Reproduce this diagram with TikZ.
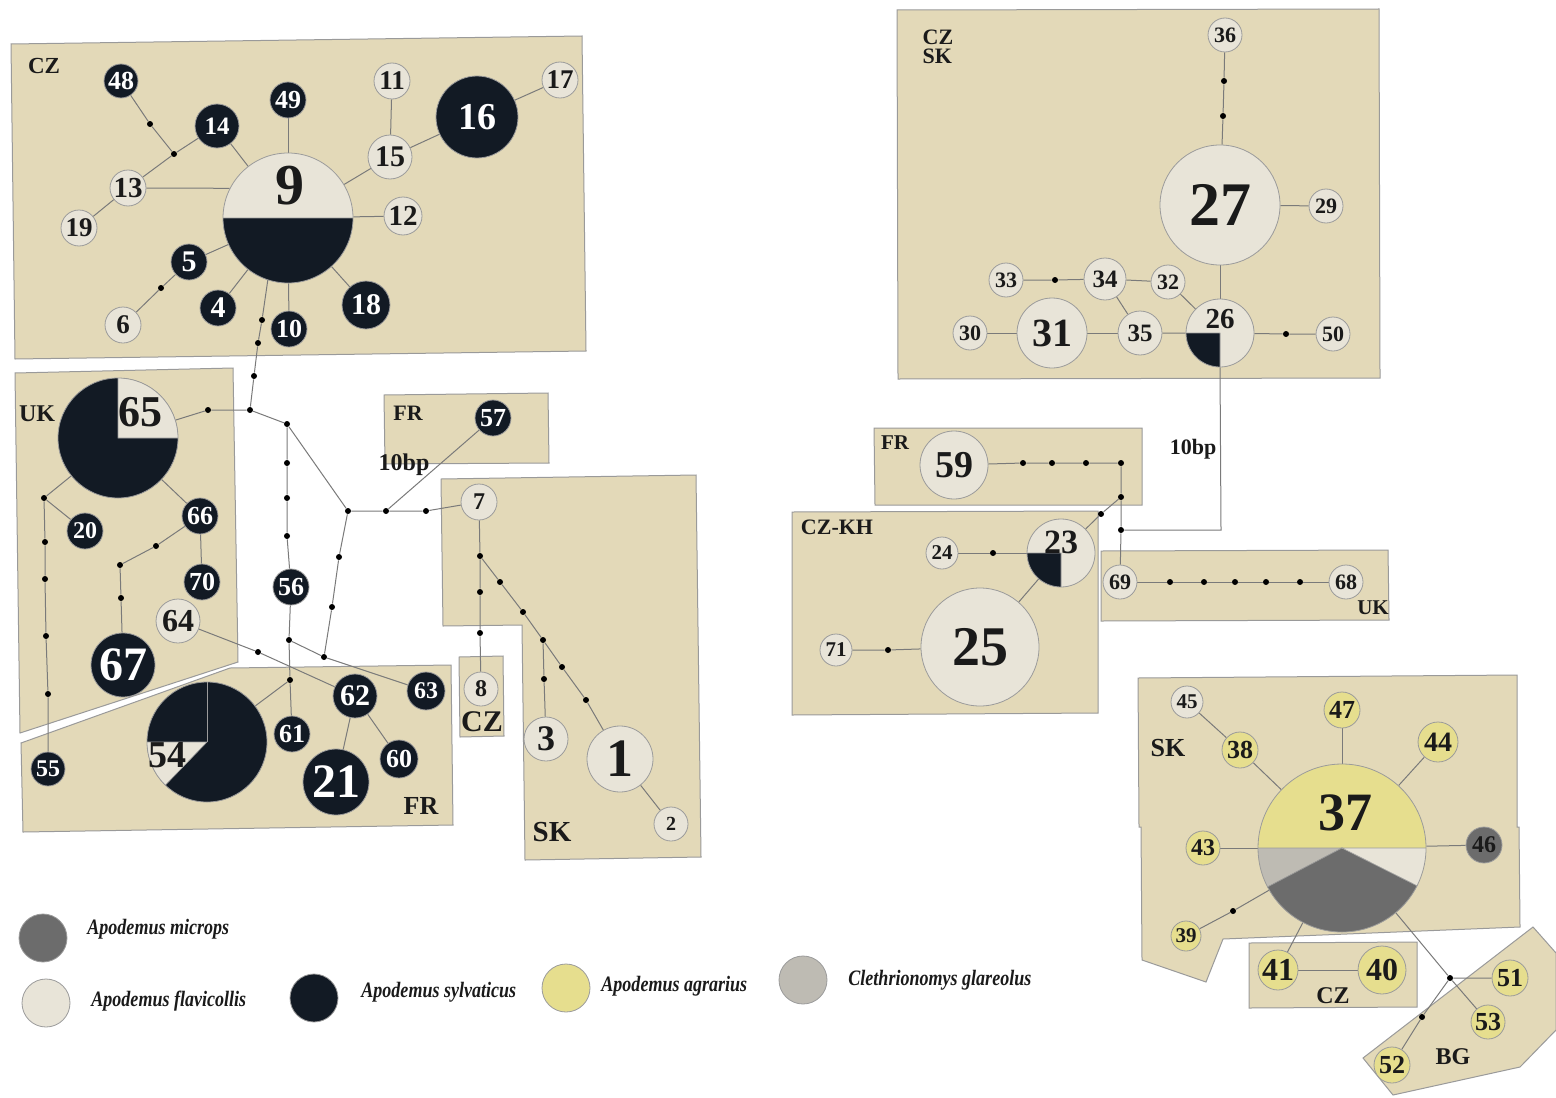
\documentclass[tikz,border=0pt]{standalone}
\usepackage{fontspec}
\setmainfont{Liberation Serif}
\usetikzlibrary{calc}
\pgfdeclarelayer{bg}
\pgfdeclarelayer{edges}
\pgfsetlayers{bg,edges,main}
\definecolor{boxfill}{HTML}{E3D9B8}
\definecolor{boxline}{HTML}{9A9A9A}
\definecolor{fla}{HTML}{E8E4D8}
\definecolor{syl}{HTML}{121A24}
\definecolor{agr}{HTML}{E6DE8E}
\definecolor{mic}{HTML}{6C6C6C}
\definecolor{gla}{HTML}{BEBBB3}
\definecolor{ecol}{HTML}{7A7A7A}
\definecolor{ncol}{HTML}{9B9B9B}
\definecolor{txt}{HTML}{1A1A1A}
\newcommand\fs[1]{\fontsize{#1}{#1}\selectfont}
\newcommand\hapnode[6]{\node[#1,minimum size=#4pt,font=\bfseries\fs{#5}] (n#6) at (#2,#3) {#6};}
\newcommand\dotnode[3]{\node[dotpt] (#1) at (#2,#3) {};}
\newcommand\pieslice[4]{\filldraw[fill=#1,draw=ncol,line width=0.3pt] (path picture bounding box.center) -- ++(#2:#4) arc[start angle=#2,end angle=#3,radius=#4] -- cycle;}
\tikzset{
 hap/.style={circle, draw=ncol, line width=0.4pt, inner sep=0pt},
 lt/.style={hap, fill=fla, text=txt},
 dk/.style={hap, fill=syl, text=white},
 yl/.style={hap, fill=agr, text=txt},
 mg/.style={hap, fill=mic, text=txt},
 dotpt/.style={circle, fill=black, inner sep=0pt, minimum size=3pt},
 edge/.style={draw=ecol, line width=0.5pt},
 region/.style={fill=boxfill, draw=boxline, line width=0.5pt},
 reglab/.style={font=\bfseries\fs{#1}, inner sep=0pt, text=txt},
 pielab/.style={font=\bfseries\fs{#1}, inner sep=0pt},
 legtext/.style={font=\bfseries\itshape\fs{11}, inner sep=0pt, anchor=west, text=txt},
 legdot/.style={circle, inner sep=0pt, minimum size=24pt, draw=ncol, line width=0.4pt},
}
\begin{document}
\begin{tikzpicture}[x=0.5pt,y=-0.5pt]
\useasboundingbox (0,0) rectangle (1556,1097);
\begin{pgfonlayer}{bg}
\fill[white] (0,0) rectangle (1556,1097);
% regions
\path[region] (11,44) -- (582,36) -- (586,351) -- (15,359) -- cycle;
\path[region] (15,373) -- (233,368) -- (238,662) -- (20,733) -- cycle;
\path[region] (21,743) -- (230,668) -- (451,665) -- (453,825) -- (23,832) -- cycle;
\path[region] (384,395) -- (548,393) -- (549,463) -- (385,464) -- cycle;
\path[region] (441,479) -- (696,475) -- (701,857) -- (525,860) -- (522,625) -- (443,626) -- cycle;
\path[region] (459,657) -- (503,656) -- (504,736) -- (460,737) -- cycle;
\path[region] (897,10) -- (1379,9) -- (1380,378) -- (898,379) -- cycle;
\path[region] (874,428) -- (1142,428) -- (1142,505) -- (875,505) -- cycle;
\path[region] (792,512) -- (1098,511) -- (1098,713) -- (792,715) -- cycle;
\path[region] (1101,551) -- (1388,550) -- (1389,620) -- (1101,621) -- cycle;
\path[region] (1138,678) -- (1517,675) -- (1517,827) -- (1519,827) -- (1520,927) -- (1223,939) -- (1206,982) -- (1142,960) -- (1141,827) -- (1139,827) -- cycle;
\path[region] (1249,943) -- (1417,942) -- (1417,1007) -- (1249,1008) -- cycle;
\path[region] (1533,927) -- (1556,953) -- (1556,1030) -- (1520,1067) -- (1393,1095) -- (1363,1058) -- cycle;
\end{pgfonlayer}

% ---------- CZ (top left)
\hapnode{dk}{121}{81}{17}{13}{48}
\hapnode{dk}{217}{126}{22}{12.5}{14}
\hapnode{dk}{288}{100}{18}{13}{49}
\hapnode{lt}{392}{81}{18}{13.5}{11}
\hapnode{dk}{477}{117}{41}{19}{16}
\hapnode{lt}{560}{80}{18}{13.5}{17}
\hapnode{lt}{128}{188}{18}{14.5}{13}
\hapnode{lt}{390}{157}{22}{15}{15}
\hapnode{lt}{403}{216}{19}{14.5}{12}
\hapnode{lt}{79}{228}{18}{13.5}{19}
\hapnode{dk}{189}{262}{18}{15}{5}
\hapnode{dk}{218}{308}{18}{15}{4}
\hapnode{lt}{123}{325}{18}{13.5}{6}
\hapnode{dk}{289}{329}{18}{13}{10}
\hapnode{dk}{366}{305}{24}{15}{18}
\node[lt, minimum size=65pt, path picture={\pieslice{syl}{180}{360}{40pt}}] (n9) at (288,218) {};
\node[pielab=29, text=txt] (n9lab) at (290,186) {9};

% ---------- UK / FR (left)
\node[dk, minimum size=60pt, path picture={\pieslice{fla}{0}{90}{40pt}}] (n65) at (118,438) {};
\node[pielab=22, text=txt] (n65lab) at (140,412) {65};
\hapnode{dk}{85}{531}{18}{12}{20}
\hapnode{dk}{200}{516}{18}{13}{66}
\hapnode{dk}{202}{582}{18}{13}{70}
\hapnode{lt}{178}{621}{22}{16}{64}
\hapnode{dk}{123}{665}{32}{24}{67}
\hapnode{dk}{291}{587}{18}{13}{56}
\hapnode{dk}{48}{769}{17}{12}{55}
\node[dk, minimum size=60pt, path picture={\pieslice{fla}{180}{226}{40pt}\draw[ncol,line width=0.3pt] (path picture bounding box.center) -- ++(90:40pt);}] (n54) at (207,742) {};
\node[pielab=19, text=txt] (n54lab) at (167,755) {54};
\hapnode{dk}{292}{734}{18}{13}{61}
\hapnode{dk}{355}{696}{22}{15}{62}
\hapnode{dk}{426}{691}{19}{12}{63}
\hapnode{dk}{399}{759}{19}{13}{60}
\hapnode{dk}{336}{782}{33}{24}{21}
\hapnode{dk}{493}{418}{18}{13}{57}
\hapnode{lt}{479}{502}{18}{12}{7}
\hapnode{lt}{481}{689}{17}{12}{8}
\hapnode{lt}{546}{739}{22}{18}{3}
\hapnode{lt}{620}{759}{33}{27}{1}
\hapnode{lt}{671}{824}{17}{10}{2}

% dots left
\dotnode{d1}{150}{124}
\dotnode{d2}{174}{154}
\dotnode{d3}{161}{288}
\dotnode{d4}{262}{320}
\dotnode{d5}{258}{343}
\dotnode{d6}{254}{376}
\dotnode{d7}{250}{410}
\dotnode{d8}{208}{410}
\dotnode{d9}{287}{424}
\dotnode{d10}{287}{463}
\dotnode{d11}{287}{498}
\dotnode{d12}{287}{536}
\dotnode{d13}{289}{640}
\dotnode{d14}{290}{680}
\dotnode{d15}{348}{511}
\dotnode{d16}{386}{511}
\dotnode{d17}{426}{511}
\dotnode{d18}{339}{557}
\dotnode{d19}{332}{607}
\dotnode{d20}{324}{657}
\dotnode{d21}{258}{652}
\dotnode{d22}{44}{498}
\dotnode{d23}{45}{542}
\dotnode{d24}{45}{579}
\dotnode{d25}{46}{636}
\dotnode{d26}{48}{694}
\dotnode{d27}{156}{546}
\dotnode{d28}{120}{565}
\dotnode{d29}{121}{598}
\dotnode{d30}{480}{556}
\dotnode{d31}{480}{592}
\dotnode{d32}{480}{633}
\dotnode{d33}{500}{582}
\dotnode{d34}{523}{612}
\dotnode{d35}{543}{640}
\dotnode{d36}{562}{667}
\dotnode{d37}{586}{700}
\dotnode{d38}{544}{679}

% ---------- CZ SK (top right)
\hapnode{lt}{1225}{35}{17}{11}{36}
\hapnode{lt}{1220}{205}{60}{31}{27}
\hapnode{lt}{1326}{206}{17}{11}{29}
\node[lt, minimum size=34pt, path picture={\pieslice{syl}{180}{270}{25pt}}] (n26) at (1220,333) {};
\node[pielab=14.5, text=txt] (n26lab) at (1220,319) {26};
\hapnode{lt}{1006}{280}{17}{11}{33}
\hapnode{lt}{1105}{279}{21}{12.5}{34}
\hapnode{lt}{1168}{282}{17}{11}{32}
\hapnode{lt}{1140}{333}{22}{12.5}{35}
\hapnode{lt}{1052}{333}{35}{20}{31}
\hapnode{lt}{970}{333}{17}{11}{30}
\hapnode{lt}{1333}{334}{17}{11}{50}
\hapnode{lt}{954}{465}{34}{19}{59}
\node[lt, minimum size=34pt, path picture={\pieslice{syl}{180}{270}{25pt}}] (n23) at (1061,553) {};
\node[pielab=17, text=txt] (n23lab) at (1061,542) {23};
\hapnode{lt}{942}{553}{16}{10.5}{24}
\hapnode{lt}{980}{647}{59}{28}{25}
\hapnode{lt}{836}{650}{16}{10.5}{71}
\hapnode{lt}{1120}{582}{17}{11}{69}
\hapnode{lt}{1346}{582}{17}{11}{68}
\dotnode{d39}{1224}{81}
\dotnode{d40}{1223}{116}
\dotnode{d41}{1055}{280}
\dotnode{d42}{1286}{334}
\dotnode{d43}{1121}{530}
\dotnode{d44}{1023}{463}
\dotnode{d45}{1052}{463}
\dotnode{d46}{1086}{463}
\dotnode{d47}{1121}{463}
\dotnode{d48}{1121}{497}
\dotnode{d49}{1101}{514}
\dotnode{d50}{993}{553}
\dotnode{d51}{888}{650}
\dotnode{d52}{1170}{582}
\dotnode{d53}{1204}{582}
\dotnode{d54}{1235}{582}
\dotnode{d55}{1266}{582}
\dotnode{d56}{1300}{582}
\coordinate (c1) at (1221,530);

% ---------- SK / CZ / BG (bottom right)
\node[yl, minimum size=84pt, path picture={\pieslice{gla}{180}{207.6}{50pt}\pieslice{mic}{207.6}{333.3}{50pt}\pieslice{fla}{333.3}{360}{50pt}}] (n37) at (1342,848) {};
\node[pielab=27, text=txt] (n37lab) at (1345,813) {37};
\hapnode{lt}{1187}{702}{16}{10.5}{45}
\hapnode{yl}{1240}{750}{18}{13}{38}
\hapnode{yl}{1342}{710}{18}{13}{47}
\hapnode{yl}{1438}{742}{20}{14}{44}
\hapnode{yl}{1203}{848}{17}{12}{43}
\hapnode{mg}{1484}{845}{18}{12}{46}
\hapnode{yl}{1186}{936}{15}{10.5}{39}
\hapnode{yl}{1278}{970}{20}{16}{41}
\hapnode{yl}{1382}{970}{24}{16}{40}
\hapnode{yl}{1510}{978}{18}{13}{51}
\hapnode{yl}{1488}{1022}{17}{13}{53}
\hapnode{yl}{1392}{1065}{18}{13}{52}
\dotnode{d57}{1233}{911}
\dotnode{d58}{1450}{978}
\dotnode{d59}{1422}{1017}

% ---------- edges
\begin{pgfonlayer}{edges}
\draw[edge] (n48) -- (d1) -- (d2);
\draw[edge] (n13) -- (d2) -- (n14);
\draw[edge] (n14) -- (n9);
\draw[edge] (n13.east) -- (n9.153);
\draw[edge] (n19) -- (n13);
\draw[edge] (n49) -- (n9);
\draw[edge] (n11) -- (n15);
\draw[edge] (n15) -- (n9);
\draw[edge] (n16) -- (n15);
\draw[edge] (n17) -- (n16);
\draw[edge] (n12) -- (n9);
\draw[edge] (n18) -- (n9);
\draw[edge] (n10) -- (n9);
\draw[edge] (n4) -- (n9);
\draw[edge] (n5) -- (n9);
\draw[edge] (n6) -- (d3) -- (n5);
\draw[edge] (n9.252) -- (d4) -- (d5) -- (d6) -- (d7) -- (d8) -- (n65);
\draw[edge] (d7) -- (d9) -- (d10) -- (d11) -- (d12) -- (n56) -- (d13) -- (d14) -- (n61);
\draw[edge] (d14) -- (n54);
\draw[edge] (d9) -- (d15) -- (d16) -- (d17) -- (n7);
\draw[edge] (d16) -- (n57);
\draw[edge] (d15) -- (d18) -- (d19) -- (d20) -- (n63);
\draw[edge] (d13) -- (d20);
\draw[edge] (n64) -- (d21) -- (n62);
\draw[edge] (n62) -- (n21);
\draw[edge] (n62) -- (n60);
\draw[edge] (n65) -- (d22) -- (n20);
\draw[edge] (d22) -- (d23) -- (d24) -- (d25) -- (d26) -- (n55);
\draw[edge] (n65) -- (n66) -- (n70);
\draw[edge] (n66) -- (d27) -- (d28) -- (d29) -- (n67);
\draw[edge] (n7) -- (d30) -- (d31) -- (d32) -- (n8);
\draw[edge] (d30) -- (d33) -- (d34) -- (d35) -- (d36) -- (d37) -- (n1) -- (n2);
\draw[edge] (d35) -- (d38) -- (n3);
\draw[edge] (n36) -- (d39) -- (d40) -- (n27) -- (n29);
\draw[edge] (n27) -- (n26);
\draw[edge] (n26) -- (n32);
\draw[edge] (n26) -- (n35) -- (n34);
\draw[edge] (n33) -- (d41) -- (n34) -- (n32);
\draw[edge] (n35) -- (n31) -- (n30);
\draw[edge] (n26) -- (d42) -- (n50);
\draw[edge] (n26.south) -- (c1) -- (d43);
\draw[edge] (n59) -- (d44) -- (d45) -- (d46) -- (d47) -- (d48) -- (d43) -- (n69);
\draw[edge] (d48) -- (d49) -- (n23);
\draw[edge] (n24) -- (d50) -- (n23);
\draw[edge] (n23) -- (n25);
\draw[edge] (n71) -- (d51) -- (n25);
\draw[edge] (n69) -- (d52) -- (d53) -- (d54) -- (d55) -- (d56) -- (n68);
\draw[edge] (n45) -- (n38) -- (n37);
\draw[edge] (n47) -- (n37);
\draw[edge] (n44) -- (n37);
\draw[edge] (n43) -- (n37);
\draw[edge] (n46) -- (n37);
\draw[edge] (n39) -- (d57) -- (n37);
\draw[edge] (n41) -- (n37);
\draw[edge] (n41) -- (n40);
\draw[edge] (n37) -- (d58) -- (n51);
\draw[edge] (d58) -- (n53);
\draw[edge] (d58) -- (d59) -- (n52);
\end{pgfonlayer}

% ---------- region labels
\node[reglab=11.5] (lczA) at (44,66) {CZ};
\node[reglab=12] (lukA) at (37,414) {UK};
\node[reglab=13] (lfrA) at (421,806) {FR};
\node[reglab=11] (lfrB) at (408,413) {FR};
\node[reglab=12] (lbpA) at (404,465) {10bp};
\node[reglab=15] (lczB) at (482,722) {CZ};
\node[reglab=14.5] (lskA) at (552,832) {SK};
\node[reglab=11, align=left, font=\bfseries\fontsize{11}{9.5}\selectfont] (lczsk) at (938,47) {CZ\\SK};
\node[reglab=10.5] (lfrC) at (895,443) {FR};
\node[reglab=11] (lbpB) at (1193,449) {10bp};
\node[reglab=11] (lczkh) at (837,527) {CZ-KH};
\node[reglab=10.5] (lukB) at (1373,608) {UK};
\node[reglab=13] (lskB) at (1168,748) {SK};
\node[reglab=12] (lczC) at (1333,996) {CZ};
\node[reglab=12] (lbg) at (1453,1057) {BG};

% ---------- legend
\node[legdot, fill=mic] (lgmic) at (43,938) {};
\node[legtext] (ltmic) at (87,929) {\scalebox{0.82}[1]{Apodemus microps}};
\node[legdot, fill=fla] (lgfla) at (46,1003) {};
\node[legtext] (ltfla) at (91,1001) {\scalebox{0.82}[1]{Apodemus flavicollis}};
\node[legdot, fill=syl] (lgsyl) at (314,998) {};
\node[legtext] (ltsyl) at (361,992) {\scalebox{0.82}[1]{Apodemus sylvaticus}};
\node[legdot, fill=agr] (lgagr) at (566,988) {};
\node[legtext] (ltagr) at (601,986) {\scalebox{0.82}[1]{Apodemus agrarius}};
\node[legdot, fill=gla] (lggla) at (803,980) {};
\node[legtext] (ltgla) at (848,980) {\scalebox{0.82}[1]{Clethrionomys glareolus}};
\end{tikzpicture}
\end{document}
